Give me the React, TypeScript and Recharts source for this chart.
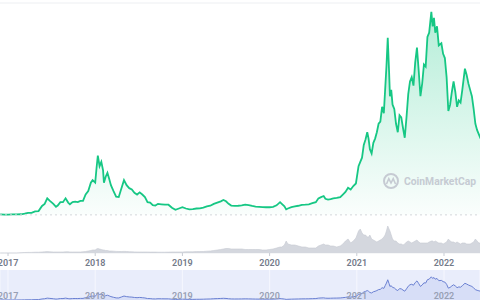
import React from 'react';
import { ComposedChart, AreaChart, Area, XAxis, YAxis, CartesianGrid, ReferenceLine } from 'recharts';

const years = [
  2016.91, 2016.96, 2017.0, 2017.05, 2017.1, 2017.15, 2017.19, 2017.23, 2017.27, 2017.31, 2017.35, 2017.39, 2017.42, 2017.45, 2017.48, 2017.52,
  2017.55, 2017.57, 2017.6, 2017.63, 2017.66, 2017.69, 2017.71, 2017.74, 2017.77, 2017.8, 2017.83, 2017.86, 2017.89, 2017.92, 2017.95, 2017.97,
  2018.0, 2018.015, 2018.03, 2018.05, 2018.07, 2018.09, 2018.1, 2018.12, 2018.14, 2018.16, 2018.18, 2018.21, 2018.24, 2018.27, 2018.3, 2018.33,
  2018.36, 2018.39, 2018.42, 2018.45, 2018.48, 2018.51, 2018.54, 2018.57, 2018.6, 2018.63, 2018.66, 2018.69, 2018.72, 2018.76, 2018.8, 2018.84,
  2018.88, 2018.92, 2018.96,
  2019.0, 2019.04, 2019.08, 2019.12, 2019.16, 2019.2, 2019.24, 2019.28, 2019.32, 2019.36, 2019.4, 2019.44, 2019.47, 2019.5, 2019.53, 2019.56,
  2019.6, 2019.64, 2019.68, 2019.72, 2019.76, 2019.8, 2019.84, 2019.88, 2019.92, 2019.96,
  2020.0, 2020.04, 2020.08, 2020.12, 2020.14, 2020.17, 2020.19, 2020.21, 2020.25, 2020.29, 2020.33, 2020.37, 2020.41, 2020.45, 2020.49, 2020.53,
  2020.56, 2020.59, 2020.62, 2020.64, 2020.67, 2020.7, 2020.73, 2020.77, 2020.81, 2020.84, 2020.87, 2020.9, 2020.93, 2020.96, 2020.99,
  2021.02, 2021.04, 2021.06, 2021.08, 2021.1, 2021.12, 2021.135, 2021.15, 2021.17, 2021.19, 2021.21, 2021.23, 2021.25, 2021.27, 2021.29, 2021.31,
  2021.325, 2021.34, 2021.355, 2021.37, 2021.38, 2021.395, 2021.41, 2021.43, 2021.45, 2021.47, 2021.49, 2021.51, 2021.53, 2021.55, 2021.57, 2021.59,
  2021.61, 2021.63, 2021.65, 2021.67, 2021.69, 2021.71, 2021.73, 2021.75, 2021.77, 2021.79, 2021.81, 2021.83, 2021.855, 2021.87, 2021.885, 2021.9,
  2021.92, 2021.94, 2021.97, 2021.99,
  2022.01, 2022.03, 2022.05, 2022.07, 2022.09, 2022.11, 2022.13, 2022.15, 2022.17, 2022.19, 2022.21, 2022.24, 2022.26, 2022.28, 2022.3, 2022.32,
  2022.34, 2022.36, 2022.38, 2022.4, 2022.42,
];

const prices = [
  10, 8, 8, 10, 11, 14, 30, 48, 48, 80, 90, 210, 260, 390, 330, 260,
  190, 220, 300, 300, 390, 290, 250, 300, 310, 300, 330, 330, 480, 560, 760, 820,
  760, 1100, 1400, 1150, 1250, 1050, 760, 900, 990, 850, 700, 560, 430, 420, 620, 820,
  700, 630, 600, 520, 480, 530, 480, 420, 300, 290, 230, 220, 260, 250, 240, 240,
  170, 120, 150,
  180, 150, 130, 135, 150, 155, 170, 200, 215, 260, 290, 320, 350, 320, 260, 220,
  210, 215, 225, 240, 230, 210, 195, 190, 185, 180,
  180, 190, 225, 300, 260, 200, 130, 150, 180, 200, 215, 235, 240, 250, 275, 300,
  390, 420, 445, 380, 360, 370, 390, 400, 420, 480, 540, 640, 600, 680, 740,
  1150, 1250, 1350, 1650, 1780, 1950, 1800, 1550, 1450, 1700, 1800, 1950, 2150, 2200, 2550, 2400,
  2950, 3500, 4180, 3400, 2800, 2950, 2600, 2500, 2150, 1950, 2350, 2300, 2050, 1820, 2300, 2850,
  3150, 3250, 3050, 3600, 3950, 3400, 2800, 3100, 3550, 3500, 4200, 4300, 4790, 4450, 4650, 4300,
  4450, 4000, 4050, 3800,
  3700, 3250, 2450, 2600, 2900, 3150, 2900, 2550, 2700, 2650, 2950, 3450, 3300, 3100, 2950, 2800,
  2500, 2150, 2000, 1900, 1800,
];

const volumes = [
  0, 0, 0, 0, 0, 0.3, 0.5, 0.6, 0.6, 0.8, 0.8, 1, 1.2, 1.4, 1.2, 1,
  1, 1, 1, 1, 1.2, 1.2, 1, 1, 1, 1, 1, 1.2, 1.5, 2, 2.5, 3,
  3, 4, 4.5, 4, 3.5, 3, 3, 2.5, 2.5, 2, 2, 1.8, 1.6, 1.5, 1.5, 1.6,
  1.5, 1.3, 1.2, 1.1, 1, 1, 1, 1, 1, 0.9, 0.9, 0.9, 0.8, 0.8, 0.8, 0.9,
  1, 1, 1,
  1, 1.2, 1.2, 1.2, 1.4, 1.4, 1.5, 1.8, 2, 2.5, 3, 3.5, 4, 4.5, 4.5, 4,
  4, 4, 4, 3.5, 3.5, 3.5, 3.5, 3.5, 3, 3,
  3.5, 4, 5, 6, 6, 8, 12, 9, 8, 8, 7, 6, 6, 5, 5, 5,
  7, 8, 9, 8, 8, 7, 7, 6, 7, 9, 12, 14, 10, 12, 15,
  22, 24, 20, 18, 18, 16, 16, 18, 14, 13, 12, 11, 12, 13, 14, 16,
  18, 22, 27, 24, 22, 18, 14, 12, 12, 10, 9, 9, 8, 9, 11, 12,
  11, 10, 11, 12, 13, 11, 10, 10, 10, 10, 10, 11, 12, 12, 11, 12,
  11, 10, 10, 9,
  10, 11, 14, 12, 11, 11, 10, 11, 10, 9, 10, 10, 9, 9, 9, 10,
  11, 14, 12, 10, 10,
];

const yearTicks = [2017, 2018, 2019, 2020, 2021, 2022];
const yearLabels = ['2017', '2018', '2019', '2020', '2021', '2022'];
const priceTicks = [-500, 500, 1000, 1500, 2000, 2500, 3000, 3500, 4000, 4500, 5000];
const timeDomain: [number, number] = [2016.908, 2022.413];

const data = years.map((t, i) => ({ t, price: prices[i], volume: volumes[i] }));

const fmtYear = (v: number) => {
  const i = yearTicks.indexOf(v);
  return i >= 0 ? yearLabels[i] : String(v);
};

export default function App() {
  return (
    <div
      style={{
        position: 'absolute',
        left: 0,
        top: 0,
        width: 480,
        height: 300,
        overflow: 'hidden',
        background: '#ffffff',
        fontFamily: 'Roboto, "Noto Sans", sans-serif',
      }}
    >
      <ComposedChart width={480} height={270} data={data} margin={{ top: 3, right: 0, bottom: 0, left: 0 }}>
        <defs>
          <linearGradient id="priceFill" x1="0" y1="0" x2="0" y2="1">
            <stop offset="0%" stopColor="#16c784" stopOpacity={0.32} />
            <stop offset="100%" stopColor="#16c784" stopOpacity={0.02} />
          </linearGradient>
        </defs>
        <CartesianGrid vertical={false} yAxisId="price" stroke="#edeff2" />
        <XAxis
          dataKey="t"
          type="number"
          domain={timeDomain}
          allowDataOverflow
          ticks={yearTicks}
          interval={0}
          tickFormatter={fmtYear}
          height={17}
          tickSize={3}
          tickMargin={4}
          axisLine={false}
          tickLine={{ stroke: '#c8ccd4' }}
          tick={{ fontSize: 9, fill: '#737a89', fontWeight: 600 }}
        />
        <YAxis
          yAxisId="price"
          domain={[-900, 5000]}
          ticks={priceTicks}
          width={0}
          tick={false}
          axisLine={false}
          tickLine={false}
        />
        <YAxis yAxisId="vol" domain={[0, 250]} hide />
        <ReferenceLine yAxisId="price" y={0} stroke="#d3d6dc" strokeDasharray="2 3" />
        <Area
          yAxisId="vol"
          dataKey="volume"
          type="linear"
          stroke="#c6c9d1"
          strokeWidth={0.6}
          fill="#d4d7de"
          fillOpacity={1}
          isAnimationActive={false}
          dot={false}
          activeDot={false}
        />
        <Area
          yAxisId="price"
          dataKey="price"
          type="linear"
          baseValue={0}
          stroke="#16c784"
          strokeWidth={1.8}
          fill="url(#priceFill)"
          fillOpacity={1}
          isAnimationActive={false}
          dot={false}
          activeDot={false}
        />
      </ComposedChart>
      <svg
        width={480}
        height={270}
        style={{ position: 'absolute', left: 0, top: 0, pointerEvents: 'none' }}
      >
        <circle cx={391} cy={181} r={7} fill="none" stroke="#c6cbd3" strokeWidth={2} />
        <path d="M386.5 184 L388.8 178.6 L391 183 L393.2 178.6 L395.5 184" fill="none" stroke="#c6cbd3" strokeWidth={1.6} />
        <text
          x={404}
          y={185}
          fontSize={10.5}
          fontWeight={700}
          fill="#c6cbd3"
          textLength={72}
          lengthAdjust="spacingAndGlyphs"
          fontFamily="Roboto, sans-serif"
        >
          CoinMarketCap
        </text>
      </svg>
      <div style={{ position: 'absolute', left: 0, top: 270, width: 480, height: 30, background: '#e9edfb' }}>
        <AreaChart width={480} height={30} data={data} margin={{ top: 0, right: 0, bottom: 0, left: 0 }}>
          <CartesianGrid horizontal={false} stroke="#f6f7fe" />
          <XAxis
            dataKey="t"
            type="number"
            domain={timeDomain}
            allowDataOverflow
            ticks={yearTicks}
            interval={0}
            tickFormatter={fmtYear}
            mirror
            axisLine={false}
            tickLine={false}
            tickSize={0}
            tickMargin={1}
            tick={{ fontSize: 9, fill: '#98a0b4', fontWeight: 600 }}
          />
          <YAxis domain={[0, 6200]} hide />
          <Area
            dataKey="price"
            type="linear"
            stroke="#6a80d2"
            strokeWidth={1}
            fill="#cfd7f5"
            fillOpacity={0.7}
            isAnimationActive={false}
            dot={false}
            activeDot={false}
          />
        </AreaChart>
      </div>
    </div>
  );
}
